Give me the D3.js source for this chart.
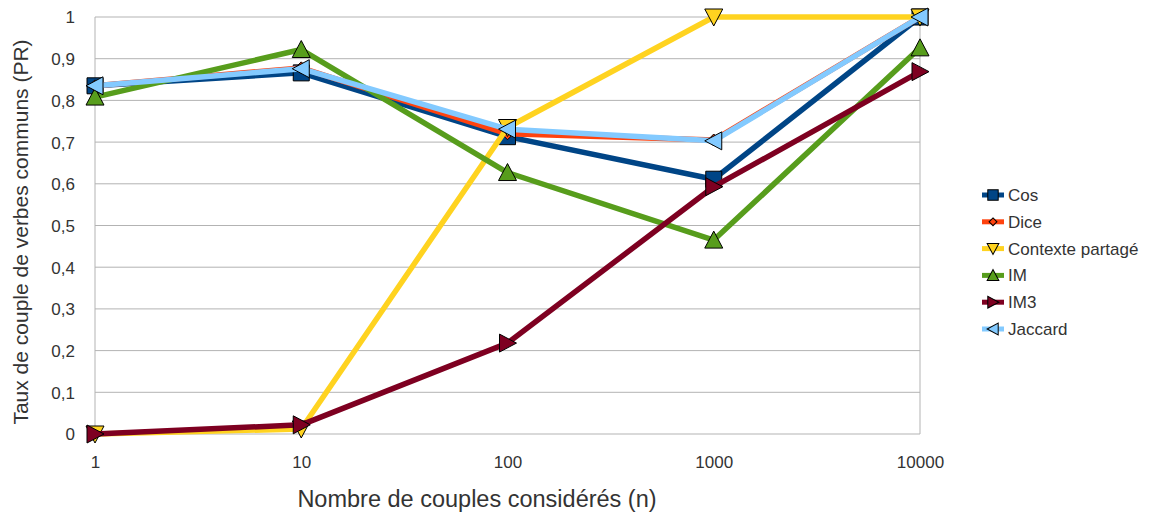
<!DOCTYPE html>
<html><head><meta charset="utf-8">
<script src="https://cdn.jsdelivr.net/npm/d3@7/dist/d3.min.js"></script>
<style>body{margin:0;background:#fff}svg{display:block}text{font-family:"Liberation Sans",Arial,sans-serif;fill:#333}</style>
</head><body><svg id="c" width="1169" height="516"></svg>
<script>
const categories = [1, 10, 100, 1000, 10000];
const seriesNames = ["Cos", "Dice", "Contexte partagé", "IM", "IM3", "Jaccard"];
const cosValues = [0.835, 0.866, 0.713, 0.611, 1.0];
const diceValues = [0.835, 0.878, 0.72, 0.705, 1.0];
const contexteValues = [0.0, 0.012, 0.735, 1.0, 1.0];
const imValues = [0.808, 0.922, 0.627, 0.465, 0.926];
const im3Values = [0.0, 0.022, 0.218, 0.593, 0.869];
const jaccardValues = [0.835, 0.876, 0.731, 0.703, 1.0];
const yTicks = [0, 0.1, 0.2, 0.3, 0.4, 0.5, 0.6, 0.7, 0.8, 0.9, 1];
const colors = ["#004586", "#ff420e", "#ffd320", "#579d1c", "#7e0021", "#83caff"];
const symbols = ["square", "diamond", "down", "up", "right", "left"];
const allValues = [cosValues, diceValues, contexteValues, imValues, im3Values, jaccardValues];

const svg = d3.select("#c");
const L = 95, R = 920, T = 17, B = 434;
const x = d3.scaleLog().domain([1, 10000]).range([L, R]);
const y = d3.scaleLinear().domain([0, 1]).range([B, T]);

// grid
svg.append("g").selectAll("line").data(yTicks).join("line")
  .attr("x1", L).attr("x2", R).attr("y1", d => y(d)).attr("y2", d => y(d))
  .attr("stroke", "#b3b3b3").attr("stroke-width", 1);
svg.append("line").attr("x1", L).attr("x2", L).attr("y1", T).attr("y2", B).attr("stroke", "#b3b3b3");
svg.append("line").attr("x1", R).attr("x2", R).attr("y1", T).attr("y2", B).attr("stroke", "#b3b3b3");

// axes
const fmt = d => d3.format(".1f")(d).replace(".", ",").replace(/^1,0$/, "1").replace(/^0,0$/, "0");
const yAxis = d3.axisLeft(y).tickValues(yTicks).tickFormat(fmt).tickSize(0).tickPadding(0);
const ya = svg.append("g").attr("transform", `translate(${L - 20},0)`).call(yAxis);
ya.select(".domain").remove();
ya.selectAll("text").attr("font-size", 17).attr("fill", "#333").attr("font-family", "Liberation Sans, Arial, sans-serif").attr("dy", "0.35em");

const xAxis = d3.axisBottom(x).tickValues(categories).tickFormat(d3.format("d")).tickSize(0).tickPadding(0);
const xa = svg.append("g").attr("transform", `translate(0,${B + 22})`).call(xAxis);
xa.select(".domain").remove();
xa.selectAll("text").attr("font-size", 17).attr("fill", "#333").attr("font-family", "Liberation Sans, Arial, sans-serif").attr("dy", "0.71em");

svg.append("text").attr("x", 477).attr("y", 507).attr("text-anchor", "middle").attr("font-size", 23.5).text("Nombre de couples considérés (n)");
svg.append("text").attr("transform", `translate(28,232) rotate(-90)`).attr("text-anchor", "middle").attr("font-size", 21).text("Taux de couple de verbes communs (PR)");

function markerPath(type, cx, cy) {
  const s = 8;
  switch (type) {
    case "square": return `M${cx-s},${cy-s}h${2*s}v${2*s}h${-2*s}Z`;
    case "diamond": { const d = 6; return `M${cx},${cy-d}L${cx+d},${cy}L${cx},${cy+d}L${cx-d},${cy}Z`; }
    case "down": return `M${cx-9},${cy-8}L${cx+9},${cy-8}L${cx},${cy+9}Z`;
    case "up": return `M${cx-9},${cy+8}L${cx+9},${cy+8}L${cx},${cy-9}Z`;
    case "right": return `M${cx-8},${cy-9}L${cx-8},${cy+9}L${cx+9},${cy}Z`;
    case "left": return `M${cx+8},${cy-9}L${cx+8},${cy+9}L${cx-9},${cy}Z`;
  }
}
const line = d3.line().x((d, i) => x(categories[i])).y(d => y(d));

allValues.forEach((vals, si) => {
  const g = svg.append("g");
  g.append("path").attr("d", line(vals)).attr("fill", "none").attr("stroke", colors[si]).attr("stroke-width", 5.5).attr("stroke-linejoin", "round");
  g.selectAll("path.m").data(vals).join("path").attr("class", "m")
    .attr("d", (d, i) => markerPath(symbols[si], x(categories[i]), y(d)))
    .attr("fill", colors[si]).attr("stroke", "#000").attr("stroke-width", 1);
});

// legend
const lg = svg.append("g");
seriesNames.forEach((n, i) => {
  const cy = 195 + i * 26.8;
  lg.append("line").attr("x1", 982).attr("x2", 1004).attr("y1", cy).attr("y2", cy).attr("stroke", colors[i]).attr("stroke-width", 5);
  const sc = 0.65;
  lg.append("path").attr("d", markerPath(symbols[i], 0, 0)).attr("transform", `translate(993,${cy}) scale(${sc})`)
    .attr("fill", colors[i]).attr("stroke", "#000").attr("stroke-width", 1 / sc);
  lg.append("text").attr("x", 1008).attr("y", cy).attr("dy", "0.35em").attr("font-size", 17).text(n);
});
</script></body></html>
